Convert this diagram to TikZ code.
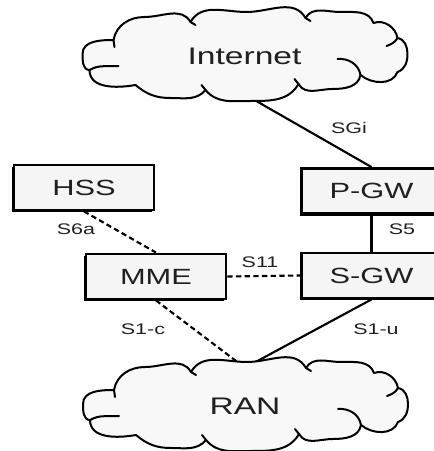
\documentclass[tikz,border=0pt]{standalone}
\usepackage{fontspec}
\newfontfamily\netfont[FakeStretch=1.4]{Liberation Sans}
\usetikzlibrary{shadows,backgrounds}
\definecolor{boxfill}{HTML}{F5F5F5}
\definecolor{cloudfill}{HTML}{F8F8F8}
\definecolor{textgray}{HTML}{202020}
\tikzset{
  netbox/.style={draw=black, line width=1.9pt, fill=boxfill, minimum width=105pt, minimum height=34pt,
    inner sep=0pt, text=textgray, font=\netfont\fontsize{16.5}{17}\selectfont,
    drop shadow={shadow xshift=-1.4pt, shadow yshift=-1.4pt, fill=black, opacity=1}},
  cloudtext/.style={minimum width=225pt, minimum height=57pt, inner sep=0pt, text=textgray,
    font=\netfont\fontsize{18}{20}\selectfont},
  cloudline/.style={draw=black, line width=1.5pt, fill=cloudfill, line join=round},
  curl/.style={draw=black, line width=1.5pt, line cap=round},
  iface/.style={text=textgray, font=\netfont\fontsize{11.5}{12}\selectfont, inner sep=0pt},
  link/.style={black, line width=1.6pt},
  ctrl/.style={black, line width=1.6pt, dash pattern=on 4pt off 2.5pt},
  pics/netcloud/.style={code={
    \path[cloudline] (-131,16) to[out=80,in=180] (-100,39) to[out=0,in=120] (-54,34)
      to[out=60,in=180] (2,44) to[out=0,in=120] (61,38)
      to[out=60,in=180] (96,44) to[out=0,in=110] (129,33)
      to[out=20,in=100] (153,18)
      to[out=-10,in=90] (163,2) to[out=-90,in=20] (153,-16)
      to[out=-110,in=-40] (116,-19)
      to[out=-100,in=0] (88,-33) to[out=180,in=-60] (54,-28)
      to[out=-120,in=0] (6,-45) to[out=180,in=-50] (-39,-34)
      to[out=-130,in=0] (-74,-42) to[out=180,in=-40] (-109,-29)
      to[out=190,in=-90] (-155,-14)
      to[out=180,in=-90] (-162,2) to[out=90,in=180] (-131,16) -- cycle;
    \path[curl] (93,-3) to[out=5,in=100] (116,-19);
    \path[curl] (-126,-10) to[out=185,in=30] (-155,-14);
    \path[curl] (142,10) to[out=20,in=-120] (153,18);
    \path[curl] (-131,16) to[out=-80,in=90] (-130,9);
    \path[curl] (-54,34) -- (-49,31);
    \path[curl] (61,38) -- (66,35);
    \path[curl] (54,-28) -- (50,-23);
    \path[curl] (-39,-34) -- (-43,-29);
  }}
}

\begin{document}
\begin{tikzpicture}[x=0.75pt,y=0.75pt]
  \useasboundingbox (0,0) rectangle (434,451);
  \pic at (244.5,395) {netcloud};
  \node[cloudtext] (inet) at (244.5,395) {Internet};
  \pic at (245,45) {netcloud};
  \node[cloudtext] (ran) at (245,45) {RAN};
  \node[netbox] (hss) at ( 84.0,263.5) {HSS};
  \node[netbox] (pgw) at (371.5,260.0) {P-GW};
  \node[netbox] (mme) at (156.0,174.5) {MME};
  \node[netbox] (sgw) at (371.5,175.5) {S-GW};
  \begin{pgfonlayer}{background}
    \draw[link] (inet.south) -- (pgw.north);
    \draw[link] (pgw.south) -- (sgw.north);
    \draw[ctrl] (mme.east) -- (sgw.west);
    \draw[ctrl] (hss.south) -- (mme.north);
    \draw[ctrl] (mme.south) -- (ran.north);
    \draw[link] (sgw.south) -- (ran.north);
  \end{pgfonlayer}
  \node[iface] (sgi) at (349,323) {SGi};
  \node[iface] (s5)  at (402,222) {S5};
  \node[iface] (s11) at (260,189) {S11};
  \node[iface] (s6a) at ( 76,222) {S6a};
  \node[iface] (s1c) at (143,122) {S1-c};
  \node[iface] (s1u) at (376,122) {S1-u};
\end{tikzpicture}
\end{document}
